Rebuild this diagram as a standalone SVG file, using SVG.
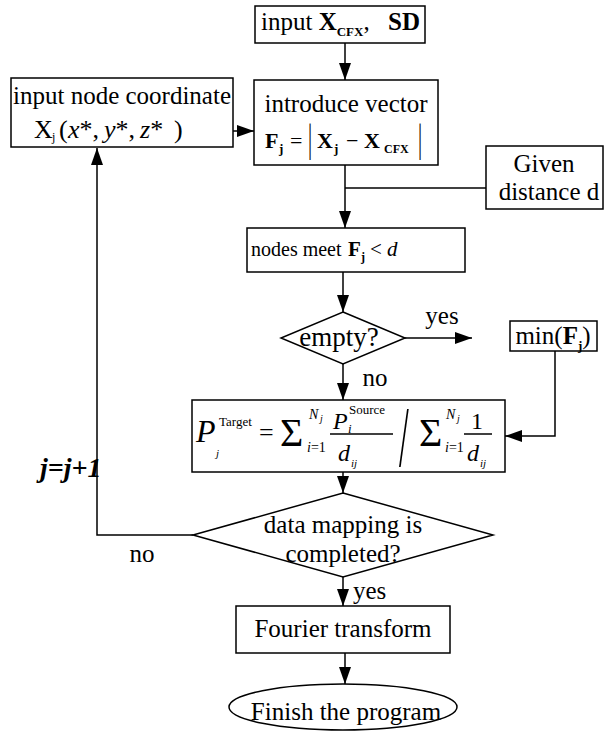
<svg xmlns="http://www.w3.org/2000/svg" width="605" height="731" viewBox="0 0 605 731">
<style>
.b{fill:#fff;stroke:#000;stroke-width:1.5}
.c{fill:none;stroke:#000;stroke-width:1.5}
text{font-family:"Liberation Serif","Times New Roman",serif;fill:#000}
.m{text-anchor:middle}
.bd{font-weight:bold}
.it{font-style:italic}
</style>
<defs>
<marker id="ah" markerUnits="userSpaceOnUse" markerWidth="18" markerHeight="12" refX="17" refY="6" orient="auto">
<path d="M0,0 L17,6 L0,12 z" fill="#000"/>
</marker>
</defs>
<g id="connectors">
<path class="c" d="M345,43 V80" marker-end="url(#ah)"/>
<path class="c" d="M198,131 H254" marker-end="url(#ah)"/>
<path class="c" d="M345,165 V228" marker-end="url(#ah)"/>
<path class="c" d="M345,188 H486"/>
<path class="c" d="M343,272 V312" marker-end="url(#ah)"/>
<path class="c" d="M405,338 H472" marker-end="url(#ah)"/>
<path class="c" d="M343,364 V400" marker-end="url(#ah)"/>
<path class="c" d="M555,351 V436 H505" marker-end="url(#ah)"/>
<path class="c" d="M343,472 V493" marker-end="url(#ah)"/>
<path class="c" d="M193,535 H97 V148" marker-end="url(#ah)"/>
<path class="c" d="M343,577 V606" marker-end="url(#ah)"/>
<path class="c" d="M345,653 V684" marker-end="url(#ah)"/>
<text x="442" y="324" class="m" font-size="25">yes</text>
<text x="375" y="386" class="m" font-size="25">no</text>
<text x="142" y="562" class="m" font-size="25">no</text>
<text x="353" y="599" font-size="25">yes</text>
<text x="40" y="477" class="bd it" font-size="28">j=j+1</text>
</g>
<g id="input-top">
<rect class="b" x="255" y="6" width="170" height="37"/>
<text x="261" y="30" font-size="25">input <tspan class="bd">X</tspan><tspan class="bd" font-size="13" dy="6">CFX</tspan><tspan dy="-6">,</tspan><tspan x="388" class="bd">SD</tspan></text>
</g>
<g id="input-node">
<rect class="b" x="11" y="78" width="222" height="69"/>
<text x="122" y="104" class="m" font-size="25">input node coordinate</text>
<text y="138" font-size="26"><tspan x="34">X</tspan><tspan x="52" dy="3" font-size="12">j</tspan><tspan x="59" dy="-3">(</tspan><tspan x="68" class="it">x</tspan><tspan>*,</tspan><tspan x="104" class="it">y</tspan><tspan>*,</tspan><tspan x="140" class="it">z</tspan><tspan>*</tspan><tspan x="174">)</tspan></text>
</g>
<g id="introduce">
<rect class="b" x="254" y="80" width="184" height="85"/>
<text x="346" y="112" class="m" font-size="25">introduce vector</text>
<text x="265" y="148" class="bd" font-size="22">F</text>
<text x="279" y="153" class="bd" font-size="13">j</text>
<text x="290" y="148" font-size="22">=</text>
<text transform="translate(308,151) scale(0.6,1.15)" font-size="34">|</text>
<text x="317" y="148" class="bd" font-size="22">X</text>
<text x="334" y="153" class="bd" font-size="13">j</text>
<text x="346" y="148" font-size="22">−</text>
<text x="364" y="148" class="bd" font-size="22">X</text>
<text x="384" y="153" class="bd" font-size="12">CFX</text>
<text transform="translate(418,151) scale(0.6,1.15)" font-size="34">|</text>
</g>
<g id="given">
<rect class="b" x="486" y="146" width="117" height="63"/>
<text x="544" y="172" class="m" font-size="25">Given</text>
<text x="549" y="200" class="m" font-size="25">distance d</text>
</g>
<g id="nodes-meet">
<rect class="b" x="247" y="228" width="218" height="44"/>
<text x="251" y="256" font-size="20">nodes meet</text>
<text x="348" y="256" class="bd" font-size="21">F</text>
<text x="361" y="261" class="bd" font-size="12">j</text>
<text x="370" y="256" font-size="21">&lt;</text>
<text x="387" y="256" class="it" font-size="21">d</text>
</g>
<g id="empty">
<polygon class="b" points="343,312 405,338 343,364 281,338"/>
<text x="339" y="346" class="m" font-size="27">empty?</text>
</g>
<g id="min">
<rect class="b" x="510" y="321" width="87" height="30"/>
<text x="553" y="344" class="m" font-size="25">min(<tspan class="bd">F</tspan><tspan class="bd" font-size="13" dy="6">j</tspan><tspan dy="-6">)</tspan></text>
</g>
<g id="formula">
<rect class="b" x="192" y="400" width="313" height="72"/>
<text x="196" y="442" class="it" font-size="32">P</text>
<text x="219" y="426" font-size="13">Target</text>
<text x="216" y="457" class="it" font-size="11">j</text>
<text x="259" y="441" font-size="26">=</text>
<text x="280" y="446" font-size="40">Σ</text>
<text x="309" y="419" class="it" font-size="14">N</text>
<text x="320" y="422" class="it" font-size="10">j</text>
<text x="307" y="452" font-size="14"><tspan class="it">i</tspan>=1</text>
<text x="333" y="429" class="it" font-size="24">P</text>
<text x="349" y="414" font-size="13">Source</text>
<text x="348" y="433" class="it" font-size="13">i</text>
<line class="c" x1="330" y1="434" x2="393" y2="434" stroke-width="1.2"/>
<text x="338" y="461" class="it" font-size="24">d</text>
<text x="351" y="467" class="it" font-size="11">ij</text>
<text transform="translate(399,466) scale(0.5,1.25)" font-size="70">/</text>
<text x="419" y="446" font-size="40">Σ</text>
<text x="446" y="419" class="it" font-size="14">N</text>
<text x="457" y="422" class="it" font-size="10">j</text>
<text x="445" y="452" font-size="14"><tspan class="it">i</tspan>=1</text>
<text x="477" y="429" class="m" font-size="24">1</text>
<line class="c" x1="464" y1="434" x2="492" y2="434" stroke-width="1.2"/>
<text x="467" y="461" class="it" font-size="24">d</text>
<text x="480" y="467" class="it" font-size="11">ij</text>
</g>
<g id="data-mapping">
<polygon class="b" points="343,493 493,535 343,577 193,535"/>
<text x="343" y="533" class="m" font-size="25">data mapping is</text>
<text x="343" y="562" class="m" font-size="25">completed?</text>
</g>
<g id="fourier">
<rect class="b" x="236" y="606" width="214" height="47"/>
<text x="343" y="637" class="m" font-size="25">Fourier transform</text>
</g>
<g id="finish">
<ellipse class="b" cx="343" cy="707" rx="114" ry="23"/>
<text x="346" y="720" class="m" font-size="25">Finish the program</text>
</g>
</svg>
